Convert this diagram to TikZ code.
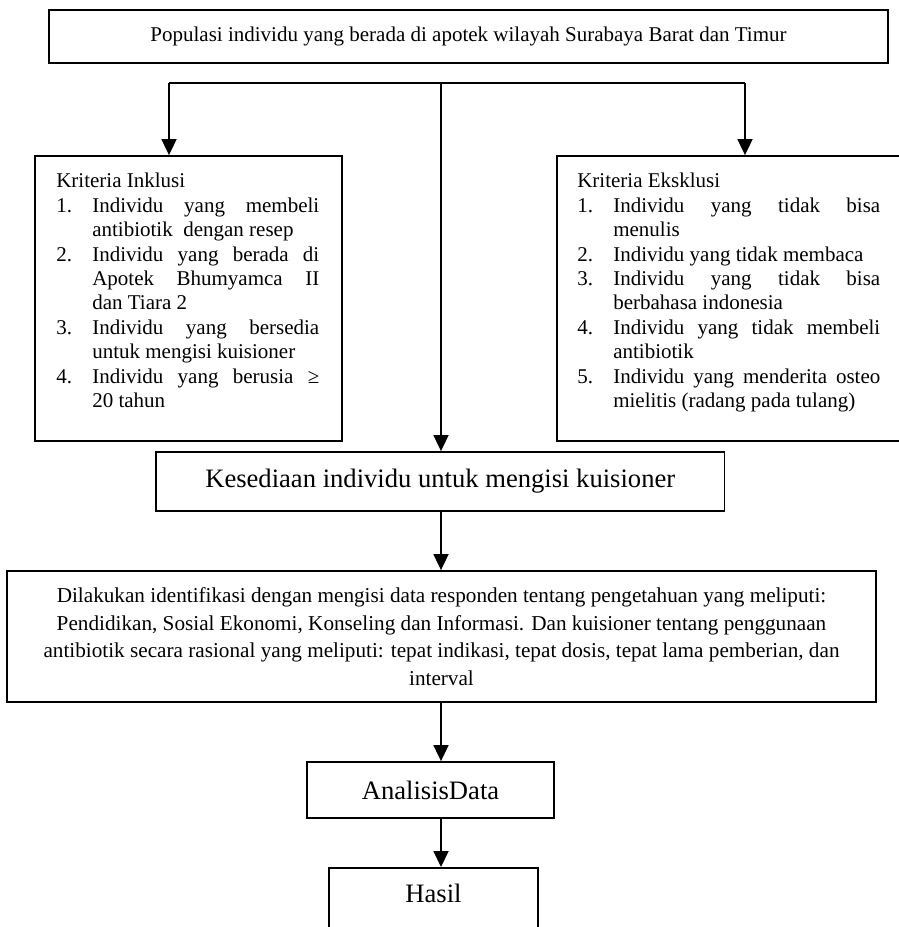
\documentclass[tikz,border=0pt]{standalone}
\usepackage{fontspec}
\setmainfont{Liberation Serif}
\usetikzlibrary{arrows.meta,positioning}
\hyphenpenalty=10000
\exhyphenpenalty=10000
\newcommand{\critem}[2]{\par\hangindent=36pt\hangafter=1\noindent\makebox[36pt][l]{#1}#2\par}
\tikzset{
  flowbox/.style={rectangle, draw=black, line width=1.8pt, align=center,
    inner sep=0pt, font=\fontsize{21}{24.4}\selectfont},
  bigbox/.style={flowbox, font=\fontsize{26.6}{30}\selectfont},
  critbox/.style={rectangle, draw=black, line width=1.8pt, inner sep=0pt},
  crittext/.style={anchor=north west, align=justify, inner sep=0pt,
    font=\fontsize{21}{24.4}\selectfont},
  flowarrow/.style={-{Triangle[length=16pt,width=15pt]}, line width=1.8pt},
  flowline/.style={line width=1.8pt},
}

\begin{document}
\begin{tikzpicture}[x=1pt, y=-1pt]
  \useasboundingbox (0,0) rectangle (898,927);

  % ============ Population (top) ============
  \node[flowbox, minimum width=839pt, minimum height=53pt] (populasi) at (468.5,36.5)
    {Populasi individu yang berada di apotek wilayah Surabaya Barat dan Timur};

  % ============ Branch line ============
  \coordinate (branch)  at (441,83);
  \coordinate (branchL) at (169,83);
  \coordinate (branchR) at (745,83);

  % ============ Inclusion / exclusion criteria ============
  \node[critbox, minimum width=307pt, minimum height=285pt] (inklusi)  at (188.5,298.5) {};
  \node[critbox, minimum width=380pt, minimum height=285pt] (eksklusi) at (747,298.5) {};

  \node[crittext, text width=263pt] (inklusitxt) at ([shift={(22pt,-18pt)}]inklusi.north west)
    {\noindent Kriteria Inklusi
     \critem{1.}{Individu yang membeli\linebreak antibiotik\ \ dengan resep}
     \critem{2.}{Individu yang berada di\linebreak Apotek Bhumyamca II\linebreak dan Tiara 2}
     \critem{3.}{Individu yang bersedia\linebreak untuk mengisi kuisioner}
     \critem{4.}{Individu yang berusia ≥\linebreak 20 tahun}};

  \node[crittext, text width=303pt] (eksklusitxt) at ([shift={(21pt,-18pt)}]eksklusi.north west)
    {\noindent Kriteria Eksklusi
     \critem{1.}{Individu yang tidak bisa\linebreak menulis}
     \critem{2.}{Individu yang tidak membaca}
     \critem{3.}{Individu yang tidak bisa\linebreak berbahasa indonesia}
     \critem{4.}{Individu yang tidak membeli\linebreak antibiotik}
     \critem{5.}{Individu yang menderita osteo\linebreak mielitis (radang pada tulang)}};

  % ============ Main column ============
  \node[bigbox, minimum width=568.5pt, minimum height=59pt] (kesediaan) at (440.25,481.5)
    {Kesediaan individu untuk mengisi kuisioner};

  \node[flowbox, minimum width=869pt, minimum height=131pt,
    font=\fontsize{21.2}{27.5}\selectfont] (identifikasi) at (441.5,636.5)
    {Dilakukan identifikasi dengan mengisi data responden tentang pengetahuan yang meliputi:\\
     Pendidikan, Sosial Ekonomi, Konseling dan Informasi. Dan kuisioner tentang penggunaan\\
     antibiotik secara rasional yang meliputi: tepat indikasi, tepat dosis, tepat lama pemberian, dan\\
     interval};

  \node[bigbox, minimum width=247pt, minimum height=56pt] (analisis) at (430.5,790)
    {AnalisisData};

  \node[bigbox, anchor=north, minimum width=209pt, text height=35pt, text depth=60pt]
    (hasil) at (433.5,867) {Hasil};

  % ============ Connectors ============
  \draw[flowline]  (branchL) -- (branchR);
  \draw[flowarrow] (branchL) -- (branchL |- inklusi.north);
  \draw[flowarrow] (branchR) -- (branchR |- eksklusi.north);
  \draw[flowarrow] (branch)  -- (branch |- kesediaan.north);
  \draw[flowarrow] (kesediaan.south -| branch)    -- (identifikasi.north -| branch);
  \draw[flowarrow] (identifikasi.south -| branch) -- (analisis.north -| branch);
  \draw[flowarrow] (analisis.south -| branch)     -- (hasil.north -| branch);

\end{tikzpicture}
\end{document}
